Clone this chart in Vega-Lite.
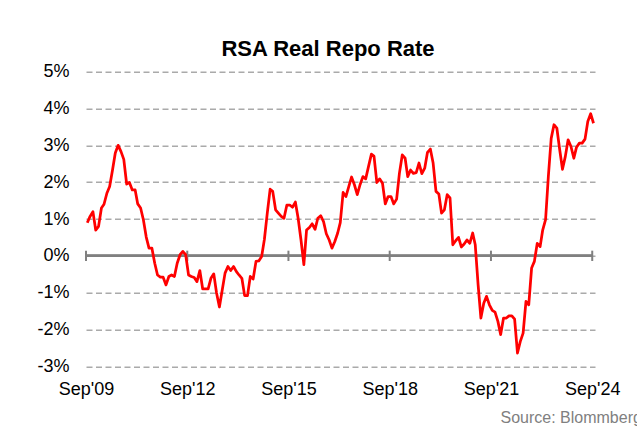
{
  "$schema": "https://vega.github.io/schema/vega-lite/v6.json",
  "width": 509,
  "height": 294.6,
  "autosize": {"type": "none"},
  "padding": {"left": 86, "top": 71.7, "right": 42, "bottom": 62.7},
  "background": "white",
  "config": {"view": {"stroke": null}, "font": "Liberation Sans"},
  "title": {"text": "RSA Real Repo Rate", "font": "Liberation Sans", "fontSize": 22, "fontWeight": "bold", "color": "#000000", "anchor": "middle", "dx": -12.5, "offset": -15, "baseline": "alphabetic"},
  "datasets": {
    "rate": [
      {"date": "2009-09-15", "rate": 0.9}, {"date": "2009-10-15", "rate": 1.07}, {"date": "2009-11-15", "rate": 1.2}, {"date": "2009-12-15", "rate": 0.7},
      {"date": "2010-01-15", "rate": 0.8}, {"date": "2010-02-15", "rate": 1.3}, {"date": "2010-03-15", "rate": 1.4}, {"date": "2010-04-15", "rate": 1.7},
      {"date": "2010-05-15", "rate": 1.88}, {"date": "2010-06-15", "rate": 2.33}, {"date": "2010-07-15", "rate": 2.79}, {"date": "2010-08-15", "rate": 3.0},
      {"date": "2010-09-15", "rate": 2.83}, {"date": "2010-10-15", "rate": 2.62}, {"date": "2010-11-15", "rate": 1.95}, {"date": "2010-12-15", "rate": 1.99},
      {"date": "2011-01-15", "rate": 1.79}, {"date": "2011-02-15", "rate": 1.79}, {"date": "2011-03-15", "rate": 1.41}, {"date": "2011-04-15", "rate": 1.3},
      {"date": "2011-05-15", "rate": 0.98}, {"date": "2011-06-15", "rate": 0.51}, {"date": "2011-07-15", "rate": 0.21}, {"date": "2011-08-15", "rate": 0.21},
      {"date": "2011-09-15", "rate": -0.2}, {"date": "2011-10-15", "rate": -0.52}, {"date": "2011-11-15", "rate": -0.58}, {"date": "2011-12-15", "rate": -0.58},
      {"date": "2012-01-15", "rate": -0.79}, {"date": "2012-02-15", "rate": -0.56}, {"date": "2012-03-15", "rate": -0.52}, {"date": "2012-04-15", "rate": -0.56},
      {"date": "2012-05-15", "rate": -0.2}, {"date": "2012-06-15", "rate": 0.03}, {"date": "2012-07-15", "rate": 0.12}, {"date": "2012-08-15", "rate": 0.03},
      {"date": "2012-09-15", "rate": -0.52}, {"date": "2012-10-15", "rate": -0.56}, {"date": "2012-11-15", "rate": -0.59}, {"date": "2012-12-15", "rate": -0.7},
      {"date": "2013-01-15", "rate": -0.4}, {"date": "2013-02-15", "rate": -0.9}, {"date": "2013-03-15", "rate": -0.9}, {"date": "2013-04-15", "rate": -0.9},
      {"date": "2013-05-15", "rate": -0.61}, {"date": "2013-06-15", "rate": -0.49}, {"date": "2013-07-15", "rate": -1.01}, {"date": "2013-08-15", "rate": -1.39},
      {"date": "2013-09-15", "rate": -0.92}, {"date": "2013-10-15", "rate": -0.47}, {"date": "2013-11-15", "rate": -0.29}, {"date": "2013-12-15", "rate": -0.4},
      {"date": "2014-01-15", "rate": -0.29}, {"date": "2014-02-15", "rate": -0.43}, {"date": "2014-03-15", "rate": -0.52}, {"date": "2014-04-15", "rate": -0.61},
      {"date": "2014-05-15", "rate": -1.08}, {"date": "2014-06-15", "rate": -1.08}, {"date": "2014-07-15", "rate": -0.56}, {"date": "2014-08-15", "rate": -0.63},
      {"date": "2014-09-15", "rate": -0.15}, {"date": "2014-10-15", "rate": -0.14}, {"date": "2014-11-15", "rate": -0.02}, {"date": "2014-12-15", "rate": 0.45},
      {"date": "2015-01-15", "rate": 1.16}, {"date": "2015-02-15", "rate": 1.81}, {"date": "2015-03-15", "rate": 1.75}, {"date": "2015-04-15", "rate": 1.25},
      {"date": "2015-05-15", "rate": 1.16}, {"date": "2015-06-15", "rate": 1.07}, {"date": "2015-07-15", "rate": 1.02}, {"date": "2015-08-15", "rate": 1.38},
      {"date": "2015-09-15", "rate": 1.38}, {"date": "2015-10-15", "rate": 1.32}, {"date": "2015-11-15", "rate": 1.46}, {"date": "2015-12-15", "rate": 1.02},
      {"date": "2016-01-15", "rate": 0.43}, {"date": "2016-02-15", "rate": -0.24}, {"date": "2016-03-15", "rate": 0.7}, {"date": "2016-04-15", "rate": 0.77},
      {"date": "2016-05-15", "rate": 0.87}, {"date": "2016-06-15", "rate": 0.72}, {"date": "2016-07-15", "rate": 1.02}, {"date": "2016-08-15", "rate": 1.09},
      {"date": "2016-09-15", "rate": 0.93}, {"date": "2016-10-15", "rate": 0.6}, {"date": "2016-11-15", "rate": 0.43}, {"date": "2016-12-15", "rate": 0.21},
      {"date": "2017-01-15", "rate": 0.39}, {"date": "2017-02-15", "rate": 0.62}, {"date": "2017-03-15", "rate": 0.9}, {"date": "2017-04-15", "rate": 1.72},
      {"date": "2017-05-15", "rate": 1.61}, {"date": "2017-06-15", "rate": 1.88}, {"date": "2017-07-15", "rate": 2.14}, {"date": "2017-08-15", "rate": 1.93},
      {"date": "2017-09-15", "rate": 1.66}, {"date": "2017-10-15", "rate": 1.93}, {"date": "2017-11-15", "rate": 2.15}, {"date": "2017-12-15", "rate": 2.09},
      {"date": "2018-01-15", "rate": 2.43}, {"date": "2018-02-15", "rate": 2.76}, {"date": "2018-03-15", "rate": 2.71}, {"date": "2018-04-15", "rate": 1.99},
      {"date": "2018-05-15", "rate": 2.09}, {"date": "2018-06-15", "rate": 1.97}, {"date": "2018-07-15", "rate": 1.41}, {"date": "2018-08-15", "rate": 1.61},
      {"date": "2018-09-15", "rate": 1.61}, {"date": "2018-10-15", "rate": 1.41}, {"date": "2018-11-15", "rate": 1.54}, {"date": "2018-12-15", "rate": 2.24},
      {"date": "2019-01-15", "rate": 2.74}, {"date": "2019-02-15", "rate": 2.65}, {"date": "2019-03-15", "rate": 2.15}, {"date": "2019-04-15", "rate": 2.33},
      {"date": "2019-05-15", "rate": 2.24}, {"date": "2019-06-15", "rate": 2.26}, {"date": "2019-07-15", "rate": 2.52}, {"date": "2019-08-15", "rate": 2.23},
      {"date": "2019-09-15", "rate": 2.38}, {"date": "2019-10-15", "rate": 2.81}, {"date": "2019-11-15", "rate": 2.9}, {"date": "2019-12-15", "rate": 2.52},
      {"date": "2020-01-15", "rate": 1.75}, {"date": "2020-02-15", "rate": 1.68}, {"date": "2020-03-15", "rate": 1.16}, {"date": "2020-04-15", "rate": 1.25},
      {"date": "2020-05-15", "rate": 1.66}, {"date": "2020-06-15", "rate": 1.57}, {"date": "2020-07-15", "rate": 0.3}, {"date": "2020-08-15", "rate": 0.41},
      {"date": "2020-09-15", "rate": 0.5}, {"date": "2020-10-15", "rate": 0.24}, {"date": "2020-11-15", "rate": 0.32}, {"date": "2020-12-15", "rate": 0.43},
      {"date": "2021-01-15", "rate": 0.34}, {"date": "2021-02-15", "rate": 0.62}, {"date": "2021-03-15", "rate": 0.3}, {"date": "2021-04-15", "rate": -0.79},
      {"date": "2021-05-15", "rate": -1.69}, {"date": "2021-06-15", "rate": -1.29}, {"date": "2021-07-15", "rate": -1.1}, {"date": "2021-08-15", "rate": -1.33},
      {"date": "2021-09-15", "rate": -1.48}, {"date": "2021-10-15", "rate": -1.53}, {"date": "2021-11-15", "rate": -1.78}, {"date": "2021-12-15", "rate": -2.14},
      {"date": "2022-01-15", "rate": -1.69}, {"date": "2022-02-15", "rate": -1.69}, {"date": "2022-03-15", "rate": -1.63}, {"date": "2022-04-15", "rate": -1.63},
      {"date": "2022-05-15", "rate": -1.72}, {"date": "2022-06-15", "rate": -2.64}, {"date": "2022-07-15", "rate": -2.33}, {"date": "2022-08-15", "rate": -2.1},
      {"date": "2022-09-15", "rate": -1.24}, {"date": "2022-10-15", "rate": -1.33}, {"date": "2022-11-15", "rate": -0.33}, {"date": "2022-12-15", "rate": -0.15},
      {"date": "2023-01-15", "rate": 0.34}, {"date": "2023-02-15", "rate": 0.25}, {"date": "2023-03-15", "rate": 0.7}, {"date": "2023-04-15", "rate": 0.98},
      {"date": "2023-05-15", "rate": 2.15}, {"date": "2023-06-15", "rate": 3.19}, {"date": "2023-07-15", "rate": 3.56}, {"date": "2023-08-15", "rate": 3.47},
      {"date": "2023-09-15", "rate": 2.88}, {"date": "2023-10-15", "rate": 2.35}, {"date": "2023-11-15", "rate": 2.7}, {"date": "2023-12-15", "rate": 3.15},
      {"date": "2024-01-15", "rate": 2.97}, {"date": "2024-02-15", "rate": 2.65}, {"date": "2024-03-15", "rate": 2.95}, {"date": "2024-04-15", "rate": 3.06},
      {"date": "2024-05-15", "rate": 3.06}, {"date": "2024-06-15", "rate": 3.17}, {"date": "2024-07-15", "rate": 3.65}, {"date": "2024-08-15", "rate": 3.86},
      {"date": "2024-09-15", "rate": 3.6}
    ],
    "ticks": [
      {"date": "2009-09-01"}, {"date": "2012-09-01"}, {"date": "2015-09-01"}, {"date": "2018-09-01"}, {"date": "2021-09-01"}, {"date": "2024-09-01"}
    ]
  },
  "layer": [
    {
      "data": {"name": "ticks"},
      "mark": {"type": "rule", "color": "#808080", "strokeWidth": 2},
      "encoding": {
        "x": {
          "field": "date", "type": "temporal",
          "scale": {"type": "utc", "domain": [{"year": 2009, "month": 9, "date": 1, "utc": true}, {"year": 2024, "month": 10, "date": 1, "utc": true}]},
          "axis": {
            "values": [
              {"year": 2009, "month": 9, "date": 1, "utc": true},
              {"year": 2012, "month": 9, "date": 1, "utc": true},
              {"year": 2015, "month": 9, "date": 1, "utc": true},
              {"year": 2018, "month": 9, "date": 1, "utc": true},
              {"year": 2021, "month": 9, "date": 1, "utc": true},
              {"year": 2024, "month": 9, "date": 1, "utc": true}
            ],
            "labelExpr": "utcFormat(datum.value, '%b') + \"'\" + utcFormat(datum.value, '%y')",
            "labelFont": "Liberation Sans", "labelFontSize": 18, "labelColor": "#000000",
            "labelPadding": 14.5, "ticks": false, "tickSize": 0, "domain": false, "grid": false,
            "labelFlush": false, "labelOverlap": false,
            "title": "Source: Blommberg", "titleFont": "Liberation Sans", "titleFontSize": 16,
            "titleFontWeight": "normal", "titleColor": "#808080", "titleX": 414, "titleY": 55.7,
            "titleAlign": "left", "titleAnchor": "start", "titleBaseline": "alphabetic"
          }
        },
        "y": {
          "datum": -0.14, "type": "quantitative",
          "scale": {"domain": [-3, 5], "nice": false, "zero": false},
          "axis": {
            "values": [-3, -2, -1, 0, 1, 2, 3, 4, 5],
            "labelExpr": "datum.value + '%'",
            "labelFont": "Liberation Sans", "labelFontSize": 18, "labelColor": "#000000",
            "labelPadding": 17, "ticks": false, "tickSize": 0, "domain": false, "labelOverlap": false,
            "grid": true, "gridColor": "#aaaaaa", "gridDash": [6, 3.5], "gridWidth": 1.5,
            "title": null
          }
        },
        "y2": {"datum": 0.14}
      }
    },
    {
      "data": {"name": "ticks"},
      "mark": {"type": "rule", "color": "#808080", "strokeWidth": 2},
      "encoding": {
        "x": {
          "datum": {"year": 2009, "month": 9, "date": 1, "utc": true}, "type": "temporal",
          "axis": {
            "values": [
              {"year": 2009, "month": 9, "date": 1, "utc": true},
              {"year": 2012, "month": 9, "date": 1, "utc": true},
              {"year": 2015, "month": 9, "date": 1, "utc": true},
              {"year": 2018, "month": 9, "date": 1, "utc": true},
              {"year": 2021, "month": 9, "date": 1, "utc": true},
              {"year": 2024, "month": 9, "date": 1, "utc": true}
            ],
            "labelExpr": "utcFormat(datum.value, '%b') + \"'\" + utcFormat(datum.value, '%y')",
            "labelFont": "Liberation Sans", "labelFontSize": 18, "labelColor": "#000000",
            "labelPadding": 14.5, "ticks": false, "tickSize": 0, "domain": false, "grid": false,
            "labelFlush": false, "labelOverlap": false,
            "title": "Source: Blommberg", "titleFont": "Liberation Sans", "titleFontSize": 16,
            "titleFontWeight": "normal", "titleColor": "#808080", "titleX": 414, "titleY": 55.7,
            "titleAlign": "left", "titleAnchor": "start", "titleBaseline": "alphabetic"
          }
        },
        "x2": {"datum": {"year": 2024, "month": 9, "date": 1, "utc": true}},
        "y": {
          "datum": 0, "type": "quantitative",
          "axis": {
            "values": [-3, -2, -1, 0, 1, 2, 3, 4, 5],
            "labelExpr": "datum.value + '%'",
            "labelFont": "Liberation Sans", "labelFontSize": 18, "labelColor": "#000000",
            "labelPadding": 17, "ticks": false, "tickSize": 0, "domain": false, "labelOverlap": false,
            "grid": true, "gridColor": "#aaaaaa", "gridDash": [6, 3.5], "gridWidth": 1.5,
            "title": null
          }
        }
      }
    },
    {
      "data": {"name": "rate"},
      "mark": {"type": "line", "color": "#ff0000", "strokeWidth": 2.75, "strokeJoin": "round", "clip": false},
      "encoding": {
        "x": {
          "field": "date", "type": "temporal",
          "axis": {
            "values": [
              {"year": 2009, "month": 9, "date": 1, "utc": true},
              {"year": 2012, "month": 9, "date": 1, "utc": true},
              {"year": 2015, "month": 9, "date": 1, "utc": true},
              {"year": 2018, "month": 9, "date": 1, "utc": true},
              {"year": 2021, "month": 9, "date": 1, "utc": true},
              {"year": 2024, "month": 9, "date": 1, "utc": true}
            ],
            "labelExpr": "utcFormat(datum.value, '%b') + \"'\" + utcFormat(datum.value, '%y')",
            "labelFont": "Liberation Sans", "labelFontSize": 18, "labelColor": "#000000",
            "labelPadding": 14.5, "ticks": false, "tickSize": 0, "domain": false, "grid": false,
            "labelFlush": false, "labelOverlap": false,
            "title": "Source: Blommberg", "titleFont": "Liberation Sans", "titleFontSize": 16,
            "titleFontWeight": "normal", "titleColor": "#808080", "titleX": 414, "titleY": 55.7,
            "titleAlign": "left", "titleAnchor": "start", "titleBaseline": "alphabetic"
          }
        },
        "y": {
          "field": "rate", "type": "quantitative",
          "axis": {
            "values": [-3, -2, -1, 0, 1, 2, 3, 4, 5],
            "labelExpr": "datum.value + '%'",
            "labelFont": "Liberation Sans", "labelFontSize": 18, "labelColor": "#000000",
            "labelPadding": 17, "ticks": false, "tickSize": 0, "domain": false, "labelOverlap": false,
            "grid": true, "gridColor": "#aaaaaa", "gridDash": [6, 3.5], "gridWidth": 1.5,
            "title": null
          }
        }
      }
    }
  ]
}
